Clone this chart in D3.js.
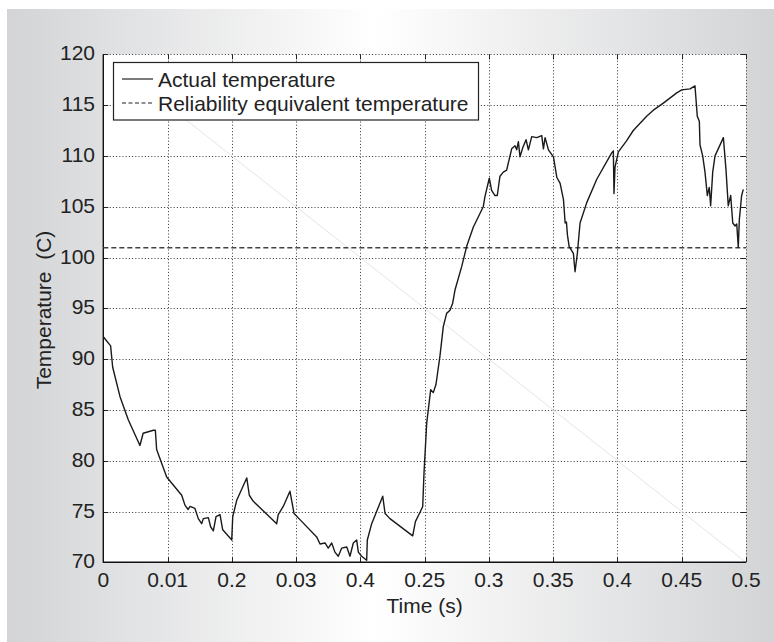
<!DOCTYPE html>
<html>
<head>
<meta charset="utf-8">
<script src="https://cdn.jsdelivr.net/npm/d3@7"></script>
<style>
body { margin: 0; background: #fff; }
svg text { font-family: "Liberation Sans", Arial, sans-serif; fill: #222; }
</style>
</head>
<body>
<div class="chart"></div>
<script>
// time in seconds, temperature in C
var time = [0, 0.0057, 0.0073, 0.013, 0.0195, 0.0285, 0.031, 0.039, 0.0405, 0.0415, 0.0493, 0.061, 0.0636, 0.066, 0.0675, 0.0713, 0.0739, 0.0765, 0.0778, 0.0817, 0.0835, 0.0856, 0.0877, 0.0908, 0.0929, 0.0986, 0.0999, 0.1007, 0.1038, 0.1116, 0.1136, 0.1167, 0.1349, 0.1361, 0.14, 0.1452, 0.1484, 0.153, 0.166, 0.1686, 0.1725, 0.175, 0.1777, 0.1802, 0.1828, 0.1855, 0.1894, 0.1919, 0.1945, 0.1971, 0.1984, 0.201, 0.2049, 0.2054, 0.2088, 0.2174, 0.2192, 0.223, 0.2407, 0.2428, 0.2467, 0.2485, 0.2495, 0.2516, 0.2547, 0.2567, 0.2588, 0.2619, 0.2645, 0.2671, 0.2697, 0.2718, 0.2736, 0.2788, 0.2827, 0.2879, 0.2956, 0.2969, 0.3003, 0.3021, 0.3047, 0.3065, 0.3086, 0.3112, 0.3138, 0.3177, 0.3203, 0.3216, 0.3229, 0.3242, 0.3263, 0.3289, 0.3307, 0.3333, 0.3372, 0.3411, 0.3424, 0.3437, 0.3463, 0.3502, 0.3528, 0.3554, 0.358, 0.3593, 0.3603, 0.3611, 0.3624, 0.3657, 0.367, 0.3688, 0.3709, 0.3761, 0.3839, 0.3955, 0.3968, 0.3973, 0.3981, 0.4007, 0.4072, 0.4123, 0.4227, 0.4279, 0.4357, 0.4461, 0.45, 0.4565, 0.4603, 0.4621, 0.4637, 0.4642, 0.4663, 0.4681, 0.4699, 0.4714, 0.4725, 0.4741, 0.4759, 0.4824, 0.4844, 0.4862, 0.4881, 0.4897, 0.4915, 0.4928, 0.494, 0.4948, 0.4966, 0.4979];
var temp = [92.2, 91.3, 89.2, 86.3, 84.0, 81.5, 82.7, 83.0, 83.0, 81.1, 78.4, 76.6, 75.6, 75.2, 75.5, 75.3, 74.3, 73.8, 74.3, 74.4, 73.5, 73.1, 74.5, 74.7, 73.2, 72.4, 72.2, 74.5, 76.1, 78.3, 76.6, 76.0, 73.8, 74.7, 75.5, 77.0, 74.8, 74.2, 72.5, 71.8, 71.9, 71.4, 71.9, 71.0, 70.6, 71.4, 71.5, 70.6, 71.9, 72.2, 71.0, 70.6, 70.2, 72.2, 73.8, 76.5, 74.8, 74.3, 72.6, 74.0, 75.0, 75.5, 78.8, 83.7, 87.0, 86.7, 87.5, 90.3, 93.2, 94.5, 94.8, 95.5, 96.8, 99.1, 101.1, 103.0, 105.0, 106.0, 107.8, 106.6, 106.1, 106.1, 108.0, 108.4, 108.6, 110.7, 111.0, 110.6, 111.4, 109.9, 110.8, 111.6, 110.6, 111.9, 111.8, 112.0, 110.7, 111.8, 110.6, 109.9, 107.9, 107.3, 105.7, 103.4, 103.5, 102.2, 101.1, 100.4, 98.6, 100.4, 103.4, 105.4, 107.7, 110.3, 110.5, 106.3, 108.9, 110.4, 111.5, 112.5, 113.9, 114.5, 115.2, 116.2, 116.5, 116.6, 116.9, 113.9, 113.4, 111.1, 110.0, 108.4, 106.1, 106.9, 105.1, 108.4, 110.0, 111.8, 108.7, 105.1, 106.1, 103.4, 103.1, 103.3, 101.0, 103.7, 106.1, 106.7];
var reliabilityTemp = 100.96;

var xTicks = [0, 0.05, 0.1, 0.15, 0.2, 0.25, 0.3, 0.35, 0.4, 0.45, 0.5];
var xTickLabels = ["0", "0.01", "0.2", "0.03", "0.4", "0.25", "0.3", "0.35", "0.4", "0.45", "0.5"];
var yTicks = [70, 75, 80, 85, 90, 95, 100, 105, 110, 115, 120];
var legendLabels = ["Actual temperature", "Reliability equivalent temperature"];

var W = 774, H = 642;
var pLeft = 103.3, pRight = 746, pTop = 54.3, pBottom = 562.3;

var svg = d3.select(".chart").append("svg").attr("width", W).attr("height", H);

// gray backdrop with light middle
var grad = svg.append("defs").append("linearGradient").attr("id", "bg")
	.attr("x1", "0%").attr("x2", "100%").attr("y1", "0%").attr("y2", "0%");
grad.append("stop").attr("offset", "0%").attr("stop-color", "#d3d4d6");
grad.append("stop").attr("offset", "48%").attr("stop-color", "#ffffff");
grad.append("stop").attr("offset", "100%").attr("stop-color", "#d3d4d6");
svg.append("rect").attr("x", 7).attr("y", 9).attr("width", W - 7).attr("height", H - 9)
	.attr("fill", "url(#bg)");

var x = d3.scaleLinear().domain([0, 0.5]).range([pLeft, pRight]);
var y = d3.scaleLinear().domain([70, 120]).range([pBottom, pTop]);

svg.append("rect").attr("x", pLeft).attr("y", pTop)
	.attr("width", pRight - pLeft).attr("height", pBottom - pTop).attr("fill", "#fff");

// dotted grid
var grid = svg.append("g").attr("stroke", "#333").attr("stroke-width", 1).attr("stroke-dasharray", "1,2.2");
grid.selectAll(".gx").data(xTicks.slice(1)).enter().append("line")
	.attr("x1", function(d){ return Math.round(x(d)) + 0.5; })
	.attr("x2", function(d){ return Math.round(x(d)) + 0.5; })
	.attr("y1", pTop).attr("y2", pBottom);
grid.selectAll(".gy").data(yTicks.slice(1)).enter().append("line")
	.attr("y1", function(d){ return Math.round(y(d)) + 0.5; })
	.attr("y2", function(d){ return Math.round(y(d)) + 0.5; })
	.attr("x1", pLeft).attr("x2", pRight);

// faint stray diagonal
svg.append("line").attr("x1", 113.3).attr("y1", 62.3).attr("x2", pRight).attr("y2", pBottom)
	.attr("stroke", "#e4e4e4").attr("stroke-width", 1);

// inward ticks on all sides
var ticks = svg.append("g").attr("stroke", "#222").attr("stroke-width", 1);
xTicks.forEach(function(d){
	var px = Math.round(x(d)) + 0.5;
	ticks.append("line").attr("x1", px).attr("x2", px).attr("y1", pBottom).attr("y2", pBottom - 5);
	ticks.append("line").attr("x1", px).attr("x2", px).attr("y1", pTop).attr("y2", pTop + 5);
});
yTicks.forEach(function(d){
	var py = Math.round(y(d)) + 0.5;
	ticks.append("line").attr("x1", pLeft).attr("x2", pLeft + 5).attr("y1", py).attr("y2", py);
	ticks.append("line").attr("x1", pRight).attr("x2", pRight - 5).attr("y1", py).attr("y2", py);
});

// axes: solid left/bottom
svg.append("line").attr("x1", pLeft).attr("x2", pLeft).attr("y1", pTop).attr("y2", pBottom + 0.5)
	.attr("stroke", "#111").attr("stroke-width", 1.4);
svg.append("line").attr("x1", pLeft).attr("x2", pRight).attr("y1", pBottom).attr("y2", pBottom)
	.attr("stroke", "#111").attr("stroke-width", 1.4);

svg.append("g").selectAll("text").data(xTicks).enter().append("text")
	.attr("x", function(d){ return x(d); }).attr("y", 587)
	.attr("text-anchor", "middle").attr("font-size", 21)
	.text(function(d, i){ return xTickLabels[i]; });
svg.append("g").selectAll("text").data(yTicks).enter().append("text")
	.attr("x", 95).attr("y", function(d){ return y(d) + 6; })
	.attr("text-anchor", "end").attr("font-size", 21)
	.text(function(d){ return d; });

svg.append("text").attr("x", (pLeft + pRight) / 2).attr("y", 613)
	.attr("text-anchor", "middle").attr("font-size", 21).text("Time (s)");
svg.append("text").attr("transform", "translate(51," + 310 + ") rotate(-90)")
	.attr("text-anchor", "middle").attr("font-size", 21)
	.text("Temperature\u00A0\u00A0(C)");

// reliability line
svg.append("line").attr("x1", pLeft).attr("x2", pRight)
	.attr("y1", y(reliabilityTemp)).attr("y2", y(reliabilityTemp))
	.attr("stroke", "#444").attr("stroke-width", 1.3).attr("stroke-dasharray", "5,3");

// actual temperature
var line = d3.line().x(function(d){ return x(d[0]); }).y(function(d){ return y(d[1]); });
svg.append("path").datum(d3.zip(time, temp)).attr("d", line)
	.attr("fill", "none").attr("stroke", "#1a1a1a").attr("stroke-width", 1.4)
	.attr("stroke-linejoin", "round");

// legend
var lg = svg.append("g");
lg.append("rect").attr("x", 113.5).attr("y", 62.5).attr("width", 365).attr("height", 57.5)
	.attr("fill", "#fff").attr("stroke", "#222").attr("stroke-width", 1.2);
var rows = [79, 103];
lg.selectAll(".ll").data(legendLabels).enter().append("line")
	.attr("x1", 122).attr("x2", 153)
	.attr("y1", function(d, i){ return rows[i]; }).attr("y2", function(d, i){ return rows[i]; })
	.attr("stroke", "#222").attr("stroke-width", 1.2)
	.attr("stroke-dasharray", function(d, i){ return i ? "4,2.5" : null; });
lg.selectAll(".lt").data(legendLabels).enter().append("text")
	.attr("x", 158).attr("y", function(d, i){ return rows[i] + 7.5; })
	.attr("font-size", 21).text(function(d){ return d; });
</script>
</body>
</html>
